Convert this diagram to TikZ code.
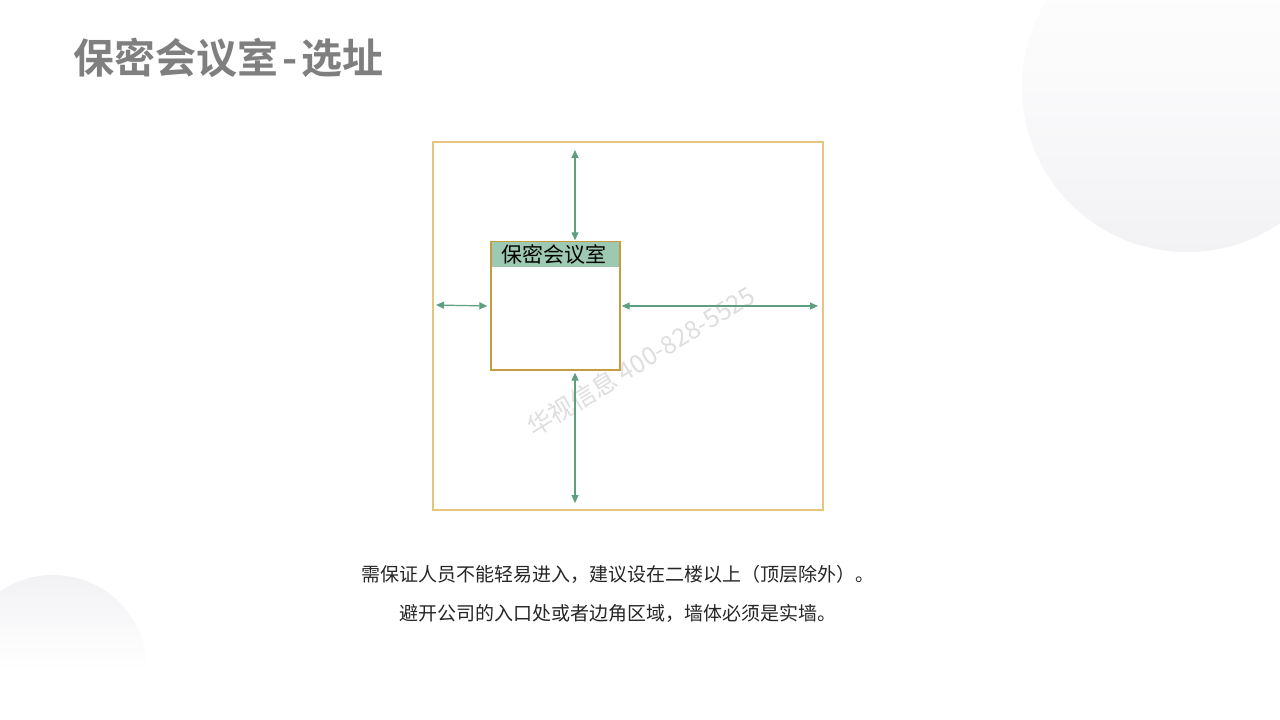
\documentclass[tikz,border=0pt]{standalone}
\usepackage{fontspec}
\setmainfont{Noto Sans CJK SC}
\newfontfamily\cjkbold{Noto Sans CJK SC}[BoldFont={* Bold}]
\usetikzlibrary{arrows.meta,calc}
\definecolor{titlegray}{HTML}{7F7F7F}
\definecolor{sitegold}{HTML}{E6C67C}
\definecolor{roomgold}{HTML}{C49C42}
\definecolor{hdrgreen}{HTML}{9DC8B1}
\definecolor{arrgreen}{HTML}{5F9F80}
\definecolor{bodytext}{HTML}{262626}
\definecolor{circgray}{HTML}{F2F2F5}
\definecolor{wmgray}{HTML}{DEDEDE}
\tikzset{
  site/.style={draw=sitegold, line width=1.6pt, minimum width=390pt, minimum height=368pt, inner sep=0pt},
  room/.style={draw=roomgold, line width=1.4pt, fill=white, minimum width=129pt, minimum height=128pt, inner sep=0pt},
  hdr/.style={fill=hdrgreen, minimum width=127.6pt, minimum height=25pt, inner sep=0pt, font=\fontsize{21}{24}\selectfont, text=black},
  gap/.style={arrgreen, line width=1.2pt, {Triangle[length=8pt,width=7pt]}-{Triangle[length=8pt,width=7pt]}},
  body/.style={text=bodytext, font=\fontsize{19}{22}\selectfont, inner sep=0pt},
}
\begin{document}
\begin{tikzpicture}[x=1pt,y=-1pt]
\useasboundingbox (0,0) rectangle (1280,720);
\fill[white] (0,0) rectangle (1280,720);
% decorative circles
\begin{scope}
\clip (0,0) rectangle (1280,720);
\shade[top color=white, bottom color=circgray, middle color=white!60!circgray] (1187,87) circle (165);
\shade[top color=circgray, bottom color=white, middle color=white] (53,669) circle (94);
\end{scope}
% title
\node[anchor=west, inner sep=0pt, text=titlegray, font=\cjkbold\bfseries\fontsize{41}{48}\selectfont] (title) at (73,58) {保密会议室\kern4pt-\kern4pt选址};
% site and room
\node[site] (siteb) at (628,326) {};
\node[room] (roomb) at (555.5,306) {};
\node[hdr, anchor=north] (hdrb) at ($(roomb.north)+(0,0.7)$) {保密会议室\kern3pt};
% watermark
\node[text=wmgray, rotate=31.5, font=\fontsize{25}{28}\selectfont, inner sep=0pt] (wm) at (641,361) {华视信息 400-828-5525};
% connectors
\coordinate (tA) at (575,150);
\coordinate (lA) at (436,305);
\coordinate (rA) at (818,306);
\coordinate (bA) at (575,503);
\draw[gap] (tA) -- ($(tA |- roomb.north)+(0,-1)$);
\draw[gap] (lA) -- ($(lA -| roomb.west)+(-3,1)$);
\draw[gap] ($(rA -| roomb.east)+(1,0)$) -- (rA);
\draw[gap] ($(bA |- roomb.south)+(0,2)$) -- (bA);
% body text
\node[body] (line1) at (618,574) {需保证人员不能轻易进入，建议设在二楼以上（顶层除外）。};
\node[body] (line2) at (618,613) {避开公司的入口处或者边角区域，墙体必须是实墙。};
\end{tikzpicture}
\end{document}
